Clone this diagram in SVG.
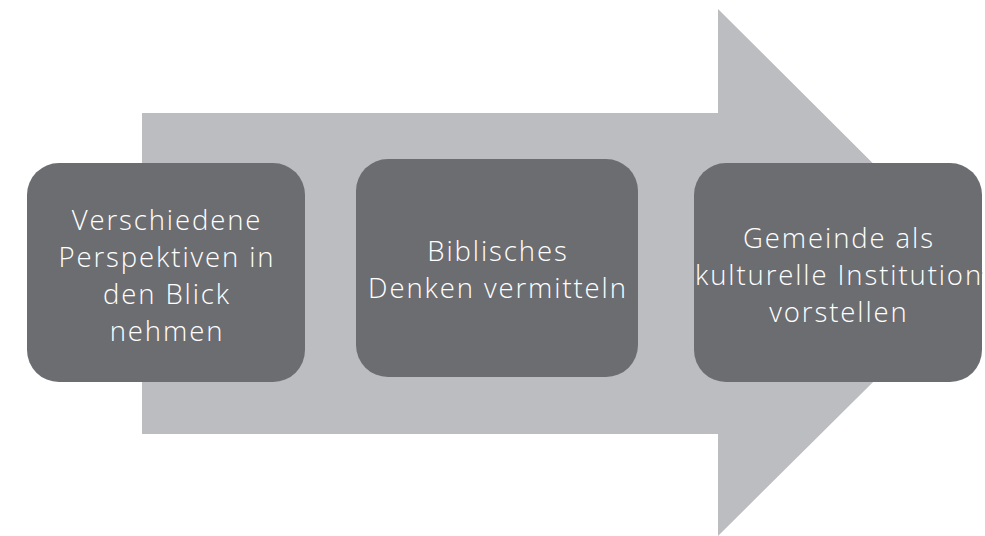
<svg xmlns="http://www.w3.org/2000/svg" width="985" height="536" viewBox="0 0 985 536">
<style>
.box{fill:#6C6D71;}
.lbl{fill:#FFFFFF;font-family:"Open Sans","Liberation Sans",sans-serif;font-size:27.5px;font-weight:300;letter-spacing:1.9px;text-anchor:middle;}
</style>
<rect width="985" height="536" fill="#FFFFFF"/>
<g id="connectors">
<polygon id="big-arrow" points="142,113 718,113 718,9 983,273 718,536 718,434 142,434" fill="#BCBDC1"/>
</g>
<g id="node1">
<rect class="box" x="27" y="163" width="278" height="219" rx="32"/>
<text class="lbl"><tspan x="167" y="230">Verschiedene</tspan><tspan x="167" y="267">Perspektiven in</tspan><tspan x="167" y="304">den Blick</tspan><tspan x="167" y="341">nehmen</tspan></text>
</g>
<g id="node2">
<rect class="box" x="356" y="159" width="282" height="218" rx="32"/>
<text class="lbl"><tspan x="498" y="261">Biblisches</tspan><tspan x="498" y="298">Denken vermitteln</tspan></text>
</g>
<g id="node3">
<rect class="box" x="694" y="163" width="288" height="219" rx="32"/>
<text class="lbl"><tspan x="839" y="248">Gemeinde als</tspan><tspan x="839" y="285">kulturelle Institution</tspan><tspan x="839" y="322">vorstellen</tspan></text>
</g>
</svg>
